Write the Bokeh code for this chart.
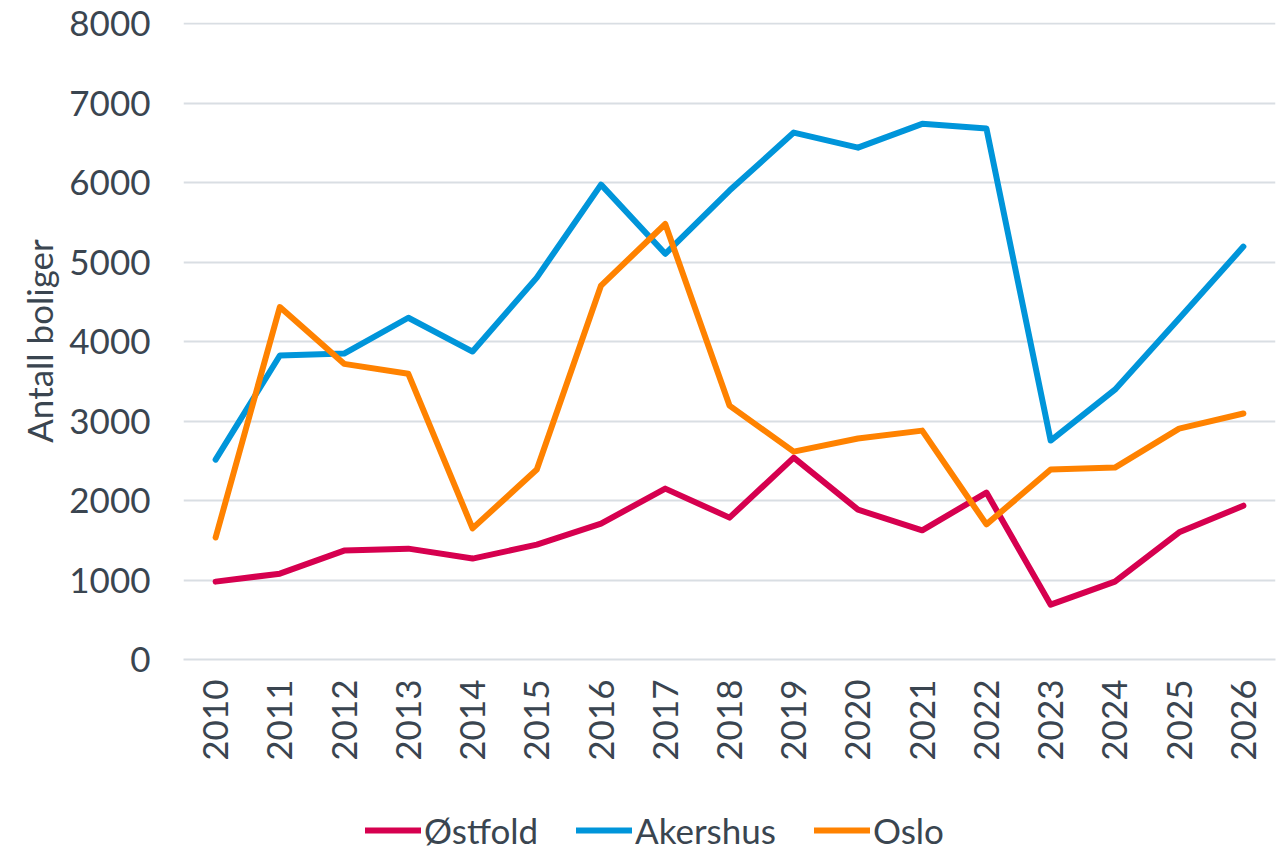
import math
from bokeh.plotting import figure
from bokeh.layouts import column
from bokeh.models import Legend, LegendItem, FactorRange, SingleIntervalTicker, Range1d
from bokeh.embed import file_html
from bokeh.resources import INLINE

years = [str(y) for y in range(2010, 2027)]
ostfold = [980, 1080, 1370, 1395, 1270, 1445, 1710, 2150, 1785, 2540, 1885, 1625, 2100, 690, 980, 1600, 1935]
akershus = [2515, 3825, 3850, 4300, 3875, 4805, 5975, 5105, 5900, 6630, 6440, 6740, 6680, 2755, 3395, 4290, 5195]
oslo = [1535, 4435, 3720, 3595, 1650, 2390, 4705, 5480, 3195, 2615, 2780, 2880, 1700, 2390, 2415, 2905, 3095]
series_names = ["Østfold", "Akershus", "Oslo"]
colors = ["#D6004F", "#0095DA", "#FF8200"]

FONT = "Lato"
TXT = "#3A4550"
GRID = "#D9DEE3"

p = figure(x_range=FactorRange(*years), y_range=(0, 8015),
           frame_width=1092, frame_height=637, output_backend="svg", toolbar_location=None,
           min_border_left=183, min_border_right=1, min_border_top=22, min_border_bottom=105)
p.outline_line_color = None

for vals, c in zip([ostfold, akershus, oslo], colors):
    p.line(years, vals, line_color=c, line_width=6, line_cap="round", line_join="round")

p.yaxis.ticker = SingleIntervalTicker(interval=1000)
p.ygrid.grid_line_color = GRID
p.ygrid.grid_line_width = 2
p.xgrid.grid_line_color = None

for ax in [p.xaxis[0], p.yaxis[0]]:
    ax.major_tick_line_color = None
    ax.minor_tick_line_color = None
    ax.major_label_text_font = FONT
    ax.major_label_text_font_size = "35px"
    ax.major_label_text_color = TXT
p.yaxis.axis_line_color = None
p.xaxis.axis_line_color = GRID
p.xaxis.axis_line_width = 2
p.yaxis.major_label_standoff = 27
p.xaxis.major_label_standoff = 14
p.xaxis.major_label_orientation = math.pi / 2
p.yaxis.axis_label = "Antall boliger"
p.yaxis.axis_label_text_font = FONT
p.yaxis.axis_label_text_font_size = "35px"
p.yaxis.axis_label_text_font_style = "normal"
p.yaxis.axis_label_text_color = TXT
p.yaxis.axis_label_standoff = 6

# legend strip below the chart (series drawn outside its visible range, only the legend shows)
lg = figure(x_range=Range1d(0, 1), y_range=Range1d(0, 1),
            frame_width=1276, frame_height=87, output_backend="svg", toolbar_location=None,
            x_axis_location=None, y_axis_location=None,
            min_border_left=0, min_border_right=0, min_border_top=0, min_border_bottom=0)
lg.outline_line_color = None
lg.grid.visible = False
items = []
for name, vals, c in zip(series_names, [ostfold, akershus, oslo], colors):
    r = lg.line(list(range(len(years))), vals, line_color=c, line_width=6, line_cap="round")
    items.append(LegendItem(label=name, renderers=[r]))

legend = Legend(items=items, orientation="horizontal", location=(365, 0),
                label_text_font=FONT, label_text_font_size="35px", label_text_color=TXT,
                glyph_width=56, glyph_height=30, label_standoff=3, spacing=38,
                border_line_color=None, background_fill_alpha=0, margin=0, padding=0)
lg.add_layout(legend, "center")

layout = column(p, lg, spacing=0)
open("out.html", "w").write(file_html(layout, INLINE))
